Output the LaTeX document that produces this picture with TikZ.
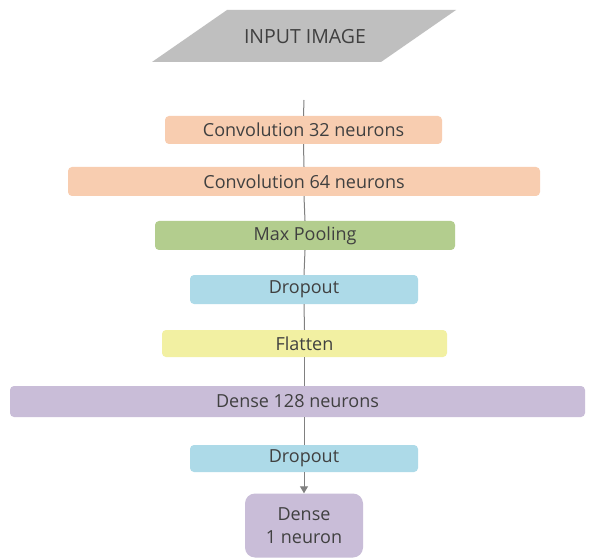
\documentclass[tikz,border=0pt]{standalone}
\usepackage{fontspec}
\setmainfont{Open Sans}
\usetikzlibrary{arrows.meta}
\definecolor{peach}{HTML}{F8CDB0}
\definecolor{leaf}{HTML}{B3CD8E}
\definecolor{sky}{HTML}{ADDAE8}
\definecolor{lemon}{HTML}{F2F0A2}
\definecolor{lilac}{HTML}{C9BDD8}
\definecolor{slab}{HTML}{BFBFBF}
\definecolor{ink}{HTML}{404040}
\definecolor{wire}{HTML}{808080}
\tikzset{
  layer/.style={draw=none, rounded corners=4pt, inner sep=0pt,
    text=ink, font=\fontsize{18}{23}\selectfont, align=center},
  link/.style={draw=wire, line width=1pt},
}
\begin{document}
\begin{tikzpicture}[x=1pt,y=-1pt]
\useasboundingbox (0,0) rectangle (595,559);
\fill[white] (0,0) rectangle (595,559);
% input parallelogram
\fill[slab] (227,10) -- (456,10) -- (381,62) -- (152,62) -- cycle;
\node[text=ink, font=\fontsize{19.5}{23}\selectfont] (input) at (305,37) {INPUT IMAGE};
% layers
\node[layer, fill=peach, minimum width=277pt, minimum height=28pt] (conv32) at (303.5,130) {Convolution 32 neurons};
\node[layer, fill=peach, minimum width=472pt, minimum height=29pt] (conv64) at (304,181.5) {Convolution 64 neurons};
\node[layer, fill=leaf, minimum width=300pt, minimum height=29pt] (pool) at (305,235.5) {Max Pooling};
\node[layer, fill=sky, minimum width=228pt, minimum height=29pt] (drop1) at (304,289.5) {Dropout};
\node[layer, fill=lemon, minimum width=285pt, minimum height=27pt] (flat) at (304.5,343.5) {Flatten};
\node[layer, fill=lilac, minimum width=575pt, minimum height=31pt] (dense128) at (297.5,401.5) {Dense 128 neurons};
\node[layer, fill=sky, minimum width=228pt, minimum height=27pt] (drop2) at (304,458.5) {Dropout};
\node[layer, fill=lilac, rounded corners=10pt, minimum width=118pt, minimum height=64pt] (dense1) at (304,525.5) {Dense\\1 neuron};
% connectors
\coordinate (start) at (304,100);
\draw[link] (start) -- (conv32.north);
\draw[link] (conv32.south) -- (conv64.north);
\draw[link] (conv64.south) -- (pool.north);
\draw[link] (pool.south) -- (drop1.north);
\draw[link] (drop1.south) -- (flat.north);
\draw[link] (flat.south) -- (dense128.north -| flat.south);
\draw[link] (dense128.south -| drop2.north) -- (drop2.north);
\draw[link, -{Triangle[width=8pt,length=7pt]}] (drop2.south) -- (dense1.north);
\end{tikzpicture}
\end{document}
